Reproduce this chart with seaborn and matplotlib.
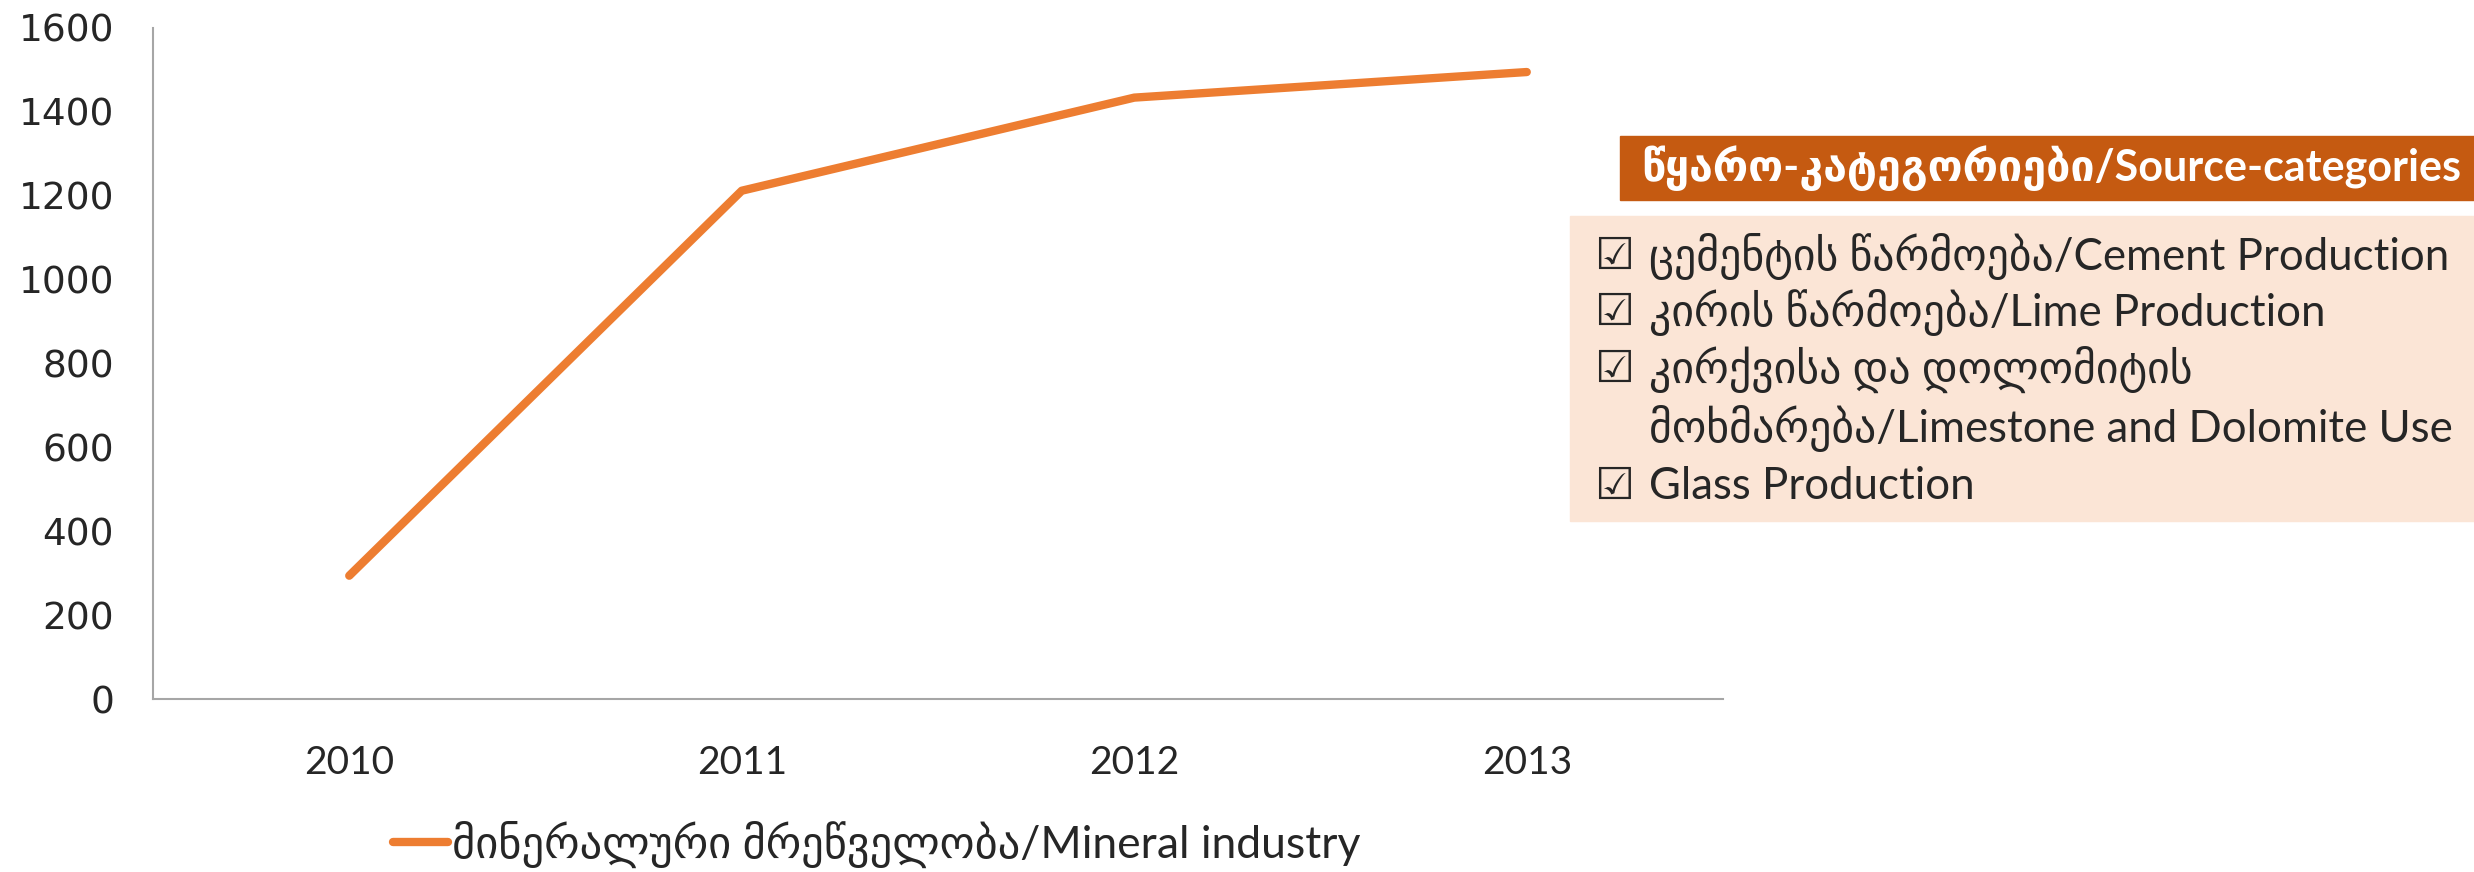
import matplotlib.pyplot as plt
import seaborn as sns
from matplotlib.patches import Rectangle
from matplotlib.lines import Line2D

# data
years = ['2010', '2011', '2012', '2013']
emissions = [294, 1212, 1434, 1495]
series_name = 'მინერალური მრეწველობა/Mineral industry'
y_ticks = [0, 200, 400, 600, 800, 1000, 1200, 1400, 1600]

box_title = 'წყარო-კატეგორიები/Source-categories'
box_items = ['ცემენტის წარმოება/Cement Production',
             'კირის წარმოება/Lime Production',
             'კირქვისა და დოლომიტის\nმოხმარება/Limestone and Dolomite Use',
             'Glass Production']

sns.set_style('white')
plt.rcParams['font.family'] = ['Lato', 'DejaVu Sans']

W, H = 2474, 872
fig = plt.figure(figsize=(W / 100, H / 100), dpi=100)
ax = fig.add_axes([153 / W, 1 - 699 / H, (1723 - 153) / W, (699 - 28) / H])

orange = '#ED7D31'
sns.lineplot(x=years, y=emissions, ax=ax, color=orange, lw=6,
             solid_capstyle='round')

ax.set_xlim(-0.5, 3.5)
ax.set_ylim(0, 1600)
ax.set_yticks(y_ticks)
ax.set_xlabel('')
ax.set_ylabel('')
for s in ['top', 'right']:
    ax.spines[s].set_visible(False)
for s in ['left', 'bottom']:
    ax.spines[s].set_color('#A6A6A6')
    ax.spines[s].set_linewidth(1.5)
ax.tick_params(axis='y', length=0, pad=28, labelsize=27)
ax.tick_params(axis='x', length=0, pad=33, labelsize=28)
for lab in ax.get_yticklabels():
    lab.set_family('DejaVu Sans')

# bottom legend
h = Line2D([], [], color=orange, lw=6, solid_capstyle='round')
fig.legend([h], [series_name], loc='center left', frameon=False,
           bbox_to_anchor=(375 / W, 1 - 844 / H), fontsize=32,
           handlelength=1.25, handletextpad=0.08, borderaxespad=0)

# source-category box
fig.patches.append(Rectangle((1620 / W, 1 - 200 / H), (W - 1620) / W, 64 / H,
                             transform=fig.transFigure, color='#C55A11', zorder=0))
fig.patches.append(Rectangle((1570 / W, 1 - 521 / H), (W - 1570) / W, 305 / H,
                             transform=fig.transFigure, color='#FBE5D6', zorder=0))
fig.text(2051 / W, 1 - 168 / H, box_title, color='white', fontsize=31,
         fontweight='bold', ha='center', va='center')

line_y = [256, 312, 369, 428, 486]
row = 0
for item in box_items:
    fig.text(1594 / W, 1 - line_y[row] / H, '☑', fontsize=32,
             family='DejaVu Sans', ha='left', va='center')
    for part in item.split('\n'):
        fig.text(1649 / W, 1 - line_y[row] / H, part, fontsize=31.5,
                 ha='left', va='center')
        row += 1

fig.savefig('out.png', dpi=100)
